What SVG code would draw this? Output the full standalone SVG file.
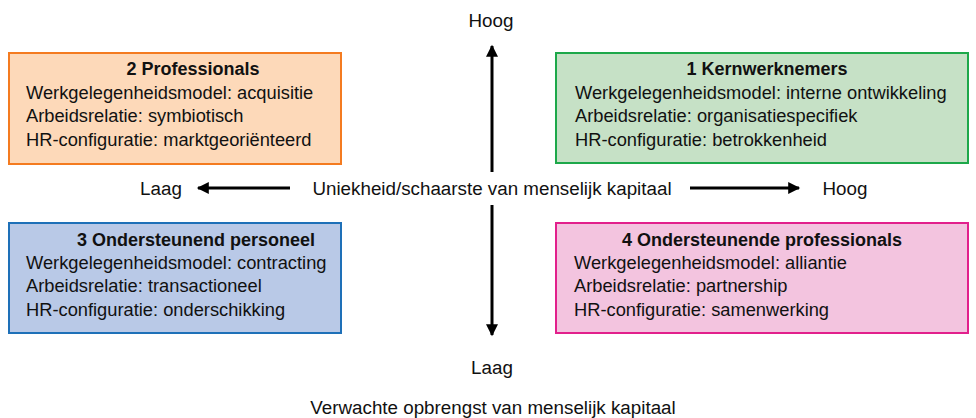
<svg xmlns="http://www.w3.org/2000/svg" width="976" height="418" viewBox="0 0 976 418">
<style>
text{font-family:"Liberation Sans",Arial,sans-serif;font-size:18.3px;fill:#111}
.t{font-weight:bold;font-size:18px}
.a{font-size:18.8px}
.b{stroke-width:2}
.ax{stroke:#000;stroke-width:3;fill:none}
</style>
<defs>
<marker id="ah" viewBox="0 0 10 10" refX="9" refY="5" markerWidth="5.5" markerHeight="4" orient="auto" markerUnits="strokeWidth">
<path d="M0,0 L10,5 L0,10 z" fill="#000"/>
</marker>
</defs>
<rect width="976" height="418" fill="#fff"/>
<g id="connectors">
<line class="ax" x1="492" y1="172" x2="492" y2="46" marker-end="url(#ah)"/>
<line class="ax" x1="492" y1="205" x2="492" y2="335" marker-end="url(#ah)"/>
<line class="ax" x1="290" y1="188" x2="198" y2="188" marker-end="url(#ah)"/>
<line class="ax" x1="690" y1="188" x2="799" y2="188" marker-end="url(#ah)"/>
</g>
<g id="axis-labels">
<text class="a" x="491" y="27" text-anchor="middle">Hoog</text>
<text class="a" x="492" y="374" text-anchor="middle">Laag</text>
<text class="a" x="161" y="195" text-anchor="middle">Laag</text>
<text class="a" x="845" y="195" text-anchor="middle">Hoog</text>
<text class="a" x="492" y="195" text-anchor="middle">Uniekheid/schaarste van menselijk kapitaal</text>
<text class="a" x="493" y="414" text-anchor="middle">Verwachte opbrengst van menselijk kapitaal</text>
</g>
<g id="node2">
<rect class="b" x="9" y="53" width="332" height="111" fill="#fdd9b9" stroke="#f47b20"/>
<text class="t" x="193" y="75" text-anchor="middle">2 Professionals</text>
<text x="26" y="99">Werkgelegenheidsmodel: acquisitie</text>
<text x="26" y="122">Arbeidsrelatie: symbiotisch</text>
<text x="26" y="146">HR-configuratie: marktgeoriënteerd</text>
</g>
<g id="node1">
<rect class="b" x="556" y="53" width="412" height="110" fill="#c6e1c6" stroke="#1da84a"/>
<text class="t" x="767" y="75" text-anchor="middle">1 Kernwerknemers</text>
<text x="575" y="99">Werkgelegenheidsmodel: interne ontwikkeling</text>
<text x="575" y="122">Arbeidsrelatie: organisatiespecifiek</text>
<text x="575" y="146">HR-configuratie: betrokkenheid</text>
</g>
<g id="node3">
<rect class="b" x="9" y="223" width="332" height="110" fill="#b9c9e7" stroke="#1e70b8"/>
<text class="t" x="196" y="246" text-anchor="middle">3 Ondersteunend personeel</text>
<text x="26" y="269">Werkgelegenheidsmodel: contracting</text>
<text x="26" y="292">Arbeidsrelatie: transactioneel</text>
<text x="26" y="316">HR-configuratie: onderschikking</text>
</g>
<g id="node4">
<rect class="b" x="556" y="223" width="412" height="110" fill="#f3c4df" stroke="#e2208c"/>
<text class="t" x="762" y="246" text-anchor="middle">4 Ondersteunende professionals</text>
<text x="574" y="269">Werkgelegenheidsmodel: alliantie</text>
<text x="574" y="292">Arbeidsrelatie: partnership</text>
<text x="574" y="316">HR-configuratie: samenwerking</text>
</g>
</svg>
